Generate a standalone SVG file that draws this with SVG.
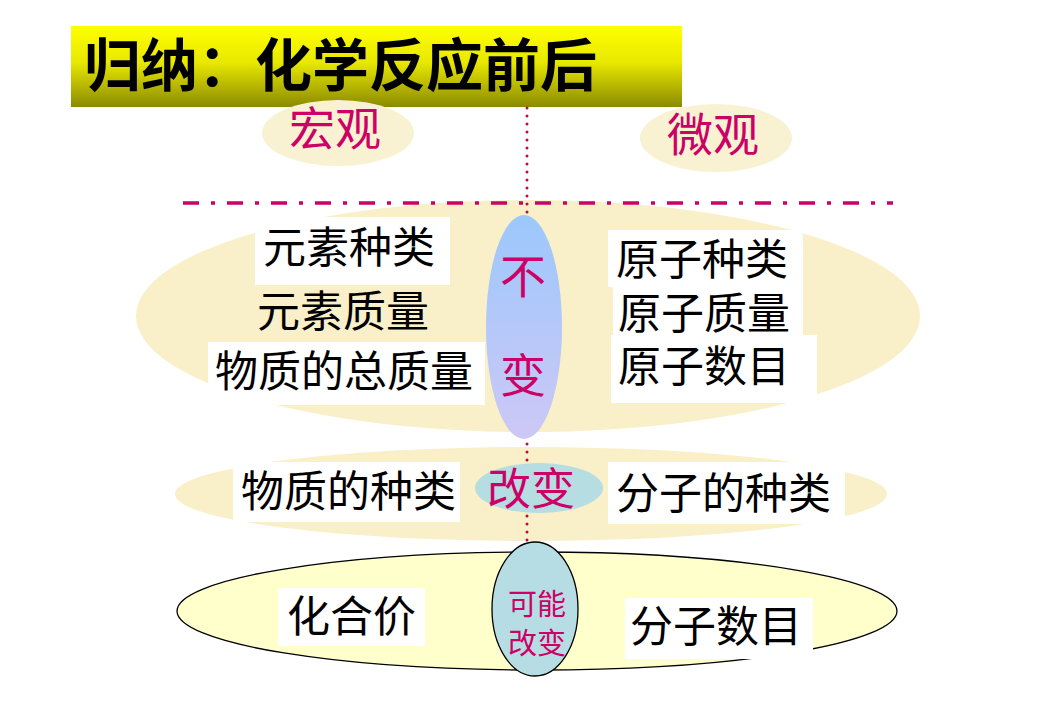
<svg xmlns="http://www.w3.org/2000/svg" width="1058" height="720" viewBox="0 0 1058 720">
<defs>
<linearGradient id="gTitle" x1="0" y1="0" x2="0" y2="1">
<stop offset="0" stop-color="#ffff00"/>
<stop offset="0.45" stop-color="#e8e800"/>
<stop offset="1" stop-color="#8a8a00"/>
</linearGradient>
<linearGradient id="gBlue" x1="0" y1="0" x2="0" y2="1">
<stop offset="0" stop-color="#9cc8fc"/>
<stop offset="1" stop-color="#cdc8f6"/>
</linearGradient>
</defs>
<style>
text{font-family:"Noto Sans CJK SC","Noto Sans",sans-serif;}
.blk{fill:#000;font-size:43px;}
.mag{fill:#cc0066;}
.beige{fill:#f9f0c9;stroke:none;}
.wbox{fill:#ffffff;stroke:none;}
.teal{fill:#b5dde2;}
</style>
<rect width="1058" height="720" fill="#ffffff"/>

<g id="title">
<rect x="71" y="26" width="611" height="81" fill="url(#gTitle)"/>
<text x="84" y="86" font-size="57" font-weight="bold" fill="#000">归纳：化学反应前后</text>
</g>

<g id="macro">
<ellipse cx="338" cy="133" rx="76" ry="33" fill="#f8f2d2"/>
<text class="mag" x="289" y="145" font-size="46">宏观</text>
</g>
<g id="micro">
<ellipse cx="716" cy="138" rx="76" ry="34" fill="#f8f2d2"/>
<text class="mag" x="667" y="151" font-size="46">微观</text>
</g>

<g id="band-unchanged">
<ellipse class="beige" cx="528" cy="316" rx="392" ry="116"/>
</g>
<g id="band-changed">
<ellipse class="beige" cx="531" cy="494" rx="356" ry="47"/>
</g>
<g id="band-maybe">
<ellipse cx="537" cy="611" rx="360" ry="59" fill="#ffffcc" stroke="#000" stroke-width="1.3"/>
</g>

<g id="divider">
<line x1="183" y1="203" x2="893" y2="203" stroke="#cc0066" stroke-width="3.5" stroke-dasharray="16 12 4 12"/>
</g>

<g id="connectors">
<line x1="527" y1="108" x2="527" y2="543" stroke="#b0104a" stroke-width="3" stroke-linecap="round" stroke-dasharray="0 8"/>
</g>

<g id="left-unchanged">
<rect class="wbox" x="255" y="217" width="195" height="68"/>
<rect class="wbox" x="208" y="342" width="277" height="63"/>
<text class="blk" x="263" y="263">元素种类</text>
<text class="blk" x="257" y="327">元素质量</text>
<text class="blk" x="215" y="387">物质的总质量</text>
</g>
<g id="right-unchanged">
<rect class="wbox" x="608" y="230" width="195" height="57"/>
<rect class="wbox" x="613" y="285" width="190" height="52"/>
<rect class="wbox" x="611" y="335" width="206" height="68"/>
<text class="blk" x="616" y="275">原子种类</text>
<text class="blk" x="618" y="329">原子质量</text>
<text class="blk" x="618" y="382">原子数目</text>
</g>
<g id="unchanged">
<ellipse cx="524" cy="327" rx="38" ry="112" fill="url(#gBlue)"/>
<text class="mag" x="523" y="293" font-size="46" text-anchor="middle">不</text>
<text class="mag" x="523" y="392" font-size="46" text-anchor="middle">变</text>
</g>

<g id="left-changed">
<rect class="wbox" x="233" y="462" width="227" height="60"/>
<text class="blk" x="241" y="507">物质的种类</text>
</g>
<g id="right-changed">
<rect class="wbox" x="608" y="462" width="237" height="62"/>
<text class="blk" x="616" y="509">分子的种类</text>
</g>
<g id="changed">
<ellipse class="teal" cx="539" cy="488" rx="64" ry="25"/>
<text class="mag" x="487" y="505" font-size="44">改变</text>
</g>

<g id="left-maybe">
<rect class="wbox" x="278" y="588" width="147" height="58"/>
<text class="blk" x="287" y="632" font-size="42">化合价</text>
</g>
<g id="right-maybe">
<rect class="wbox" x="625" y="598" width="188" height="61"/>
<text class="blk" x="630" y="642">分子数目</text>
</g>
<g id="maybe">
<ellipse cx="535" cy="609" rx="43" ry="67" fill="#b6dde3" stroke="#000" stroke-width="1.3"/>
<text class="mag" x="537" y="615" font-size="29" text-anchor="middle">可能</text>
<text class="mag" x="537" y="654" font-size="29" text-anchor="middle">改变</text>
</g>
</svg>
